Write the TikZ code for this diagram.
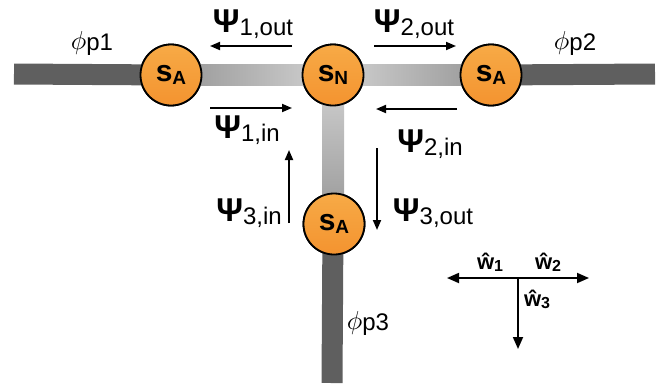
\documentclass[tikz,border=0pt]{standalone}
\usepackage{fontspec}
\setsansfont{Liberation Sans}
\usetikzlibrary{arrows.meta, positioning}

\definecolor{siteorange}{RGB}{243,155,50}
\definecolor{sitetop}{RGB}{247,170,70}
\definecolor{pipedark}{RGB}{95,95,95}
\definecolor{pipemid}{RGB}{150,150,150}
\definecolor{pipelight}{RGB}{210,210,210}

\newcommand{\sitelabel}[1]{{\fontsize{30}{30}\selectfont s\raisebox{-3pt}{\fontsize{19}{19}\selectfont #1}}}
\newcommand{\fluxlabel}[1]{{\fontsize{33}{33}\selectfont\bfseries\symbol{"03A8}}\raisebox{-2.5pt}{\fontsize{24}{24}\selectfont #1}}
\newcommand{\pipelabel}[1]{\scalebox{2.6}{$\phi$}\raisebox{-1pt}{\fontsize{24}{24}\selectfont #1}}
\newcommand{\dirlabel}[1]{{\fontsize{22}{22}\selectfont\bfseries ŵ}\raisebox{-2pt}{\fontsize{16}{16}\selectfont\bfseries #1}}

\begin{document}
\begin{tikzpicture}[x=1pt, y=-1pt, font=\sffamily]

\tikzset{
  site/.style={circle, draw=black, line width=1.8pt, minimum size=61pt, inner sep=0pt,
    top color=sitetop, bottom color=siteorange!95!red, font=\sffamily\bfseries},
  pipe/.style={line width=21pt, draw=pipedark},
  flow/.style={-{Triangle[length=10pt, width=8pt]}, line width=1.8pt},
  axis/.style={-{Triangle[length=12pt, width=10pt]}, line width=1.8pt},
  flux/.style={inner sep=0pt}
}

\useasboundingbox (0,0) rectangle (660,383);

% --- Knoten ---
\node[site] (sA1) at (171,75) {};
\node[site] (sN)  at (333,75) {};
\node[site] (sA2) at (491,75) {};
\node[site] (sA3) at (334,224) {};

% --- freie Rohrenden ---
\coordinate (endL) at (14,74);
\coordinate (endR) at (655,74);
\coordinate (endB) at (333,383);

% --- Rohre (hinter den Knoten) ---
\path[pipe] (endL) -- (sA1.center);
\path[pipe] (sA2.center) -- (endR);
\path[pipe] ([xshift=-1pt]sA3.center) -- ([xshift=-1pt]endB);
\shade[left color=pipemid, right color=pipelight]
  ([yshift=-10.5pt]sA1.center) rectangle ([yshift=10.5pt]sN.center);
\shade[left color=pipelight, right color=pipemid]
  ([yshift=-10.5pt]sN.center) rectangle ([yshift=10.5pt]sA2.center);
\shade[top color=pipelight, bottom color=pipemid]
  ([xshift=-11pt]sN.center) rectangle ([xshift=10pt]sA3.center);

% --- Knoten nochmal obendrauf ---
\node[site] at (sA1) {\sitelabel{A}};
\node[site] at (sN)  {\sitelabel{N}};
\node[site] at (sA2) {\sitelabel{A}};
\node[site] at (sA3) {\sitelabel{A}};

% --- Pfeile ---
\coordinate (o1a) at (292,46);  \coordinate (o1b) at (210,46);
\coordinate (i1a) at (210,108); \coordinate (i1b) at (292,108);
\coordinate (o2a) at (374,46);  \coordinate (o2b) at (456,46);
\coordinate (i2a) at (457,109); \coordinate (i2b) at (376,109);
\coordinate (i3a) at (289,223); \coordinate (i3b) at (289,150);
\coordinate (o3a) at (377,148); \coordinate (o3b) at (377,230);

\draw[flow] (o1a) -- (o1b);
\draw[flow] (i1a) -- (i1b);
\draw[flow] (o2a) -- (o2b);
\draw[flow] (i2a) -- (i2b);
\draw[flow] (i3a) -- (i3b);
\draw[flow] (o3a) -- (o3b);

% --- Beschriftungen ---
\node[flux] (lo1) at (253,24)  {\fluxlabel{1,out}};
\node[flux] (li1) at (247,130) {\fluxlabel{1,in}};
\node[flux] (lo2) at (414,24)  {\fluxlabel{2,out}};
\node[flux] (li2) at (430,144) {\fluxlabel{2,in}};
\node[flux] (li3) at (249,213) {\fluxlabel{3,in}};
\node[flux] (lo3) at (433,213) {\fluxlabel{3,out}};

\node[flux] (lp1) at (92,43)  {\pipelabel{p1}};
\node[flux] (lp2) at (575,43) {\pipelabel{p2}};
\node[flux] (lp3) at (368,323) {\pipelabel{p3}};

% --- Richtungen ---
\coordinate (w0) at (518,278);
\coordinate (w1) at (447,278);
\coordinate (w2) at (589,278);
\coordinate (w3) at (518,349);
\draw[axis] (w0) -- (w1);
\draw[axis] (w0) -- (w2);
\draw[axis] (w0) -- (w3);

\node[flux] (lw1) at (490,262) {\dirlabel{1}};
\node[flux] (lw2) at (548,262) {\dirlabel{2}};
\node[flux] (lw3) at (537,299) {\dirlabel{3}};

\end{tikzpicture}
\end{document}
